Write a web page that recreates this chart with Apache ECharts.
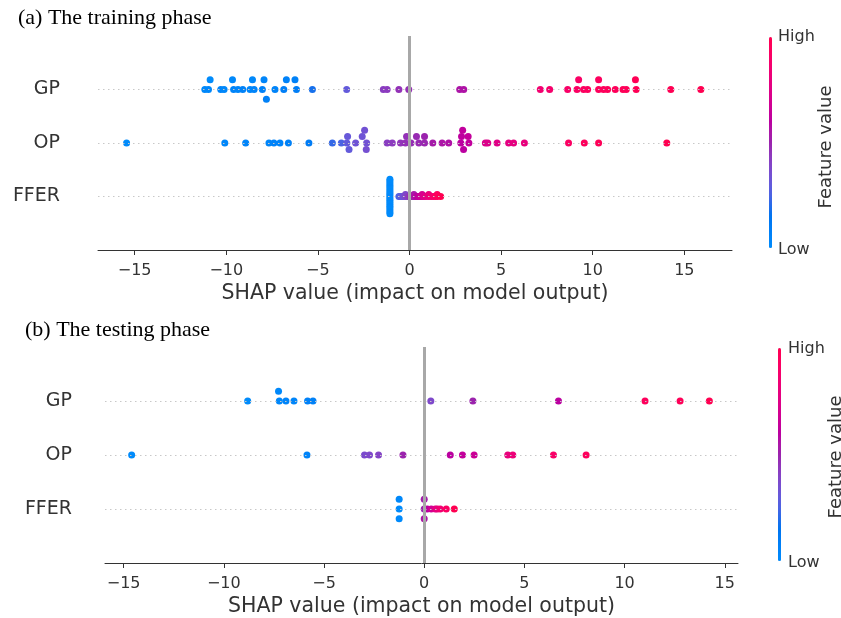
<!DOCTYPE html>
<html>
<head>
<meta charset="utf-8">
<script src="https://cdn.jsdelivr.net/npm/echarts@6/dist/echarts.min.js"></script>
<style>
  html, body { margin: 0; padding: 0; background: #ffffff; }
  #chart { width: 841px; height: 618px; }
</style>
</head>
<body>
<div id="chart"></div>
<script>
// Feature names, top row first
const features = ['GP', 'OP', 'FFER'];
const xTicks = [-15, -10, -5, 0, 5, 10, 15];

// (a) training phase: SHAP values and normalised feature values (0 = low, 1 = high)
const trainGP = [-11.17, -10.97, -10.88, -10.30, -10.12, -9.60, -9.66, -9.36, -9.10, -8.70,
  -8.48, -8.57, -8.03, -7.94, -7.81, -7.34, -6.86, -6.72, -6.17, -6.25,
  -5.30, -3.43, -1.43, -1.22, -0.58, -0.04, 2.74, 2.96, 7.14, 7.65,
  8.63, 9.14, 9.23, 9.50, 9.72, 10.32, 10.32, 10.59, 10.81, 11.23,
  11.65, 11.83, 12.37, 12.33, 14.26, 15.90];
const trainGPFeat = [0.02, 0.03, 0.00, 0.04, 0.03, 0.05, 0.02, 0.04, 0.06, 0.03,
  0.05, 0.02, 0.06, 0.04, 0.07, 0.05, 0.08, 0.06, 0.09, 0.07,
  0.18, 0.30, 0.42, 0.43, 0.46, 0.47, 0.55, 0.56, 0.86, 0.88,
  0.90, 0.92, 0.91, 0.93, 0.94, 0.95, 0.94, 0.95, 0.96, 0.96,
  0.97, 0.97, 0.98, 0.98, 0.99, 1.00];

const trainOP = [-15.44, -10.08, -8.94, -7.67, -7.40, -7.07, -6.61, -5.49, -4.21, -3.72,
  -3.42, -3.38, -3.30, -2.94, -2.34, -2.58, -2.36, -2.45, -1.22, -0.94,
  -0.49, -0.22, -0.16, 0.08, 0.51, 0.38, 0.82, 0.82, 1.27, 1.78,
  2.14, 2.80, 2.84, 2.95, 2.90, 3.24, 3.20, 4.14, 4.27, 4.78,
  5.41, 5.68, 6.27, 8.68, 9.54, 10.32, 14.04];
const trainOPFeat = [0.00, 0.03, 0.05, 0.04, 0.06, 0.05, 0.07, 0.10, 0.22, 0.25,
  0.30, 0.31, 0.30, 0.33, 0.34, 0.33, 0.35, 0.34, 0.42, 0.43,
  0.45, 0.46, 0.46, 0.47, 0.48, 0.48, 0.49, 0.50, 0.53, 0.55,
  0.56, 0.60, 0.61, 0.60, 0.62, 0.62, 0.63, 0.72, 0.73, 0.75,
  0.77, 0.78, 0.80, 0.92, 0.95, 0.97, 1.00];

const trainFFER = [-1.07, -1.07, -1.07, -1.07, -1.07, -1.07, -1.07, -1.07, -1.07, -1.07,
  -1.07, -1.07, -1.07, -1.07, -1.07, -1.07, -1.07, -1.07, -1.07,
  -0.58, -0.50, -0.41, -0.33, -0.22, -0.22, -0.12, -0.03, 0.06, 0.15,
  0.24, 0.24, 0.33, 0.42, 0.52, 0.61, 0.69, 0.69, 0.79, 0.90,
  1.05, 1.05, 1.18, 1.30, 1.42, 1.51, 1.51, 1.70];
const trainFFERFeat = [0.00, 0.01, 0.00, 0.02, 0.01, 0.00, 0.02, 0.01, 0.00, 0.01,
  0.02, 0.00, 0.01, 0.02, 0.00, 0.01, 0.02, 0.00, 0.01,
  0.25, 0.28, 0.31, 0.34, 0.37, 0.38, 0.41, 0.44, 0.47, 0.50,
  0.53, 0.54, 0.57, 0.60, 0.63, 0.66, 0.69, 0.70, 0.73, 0.76,
  0.80, 0.81, 0.85, 0.88, 0.91, 0.94, 0.95, 1.00];

// (b) testing phase
const testGP = [-8.81, -7.23, -7.27, -6.90, -6.50, -5.82, -5.55, 0.33, 2.43, 6.70, 11.02, 12.77, 14.23];
const testGPFeat = [0.00, 0.03, 0.02, 0.05, 0.04, 0.06, 0.07, 0.38, 0.50, 0.60, 0.95, 0.97, 1.00];

const testOP = [-14.60, -5.85, -2.98, -2.73, -2.28, -1.06, 1.30, 1.91, 2.49, 4.17, 4.42, 6.45, 8.08];
const testOPFeat = [0.00, 0.05, 0.37, 0.38, 0.40, 0.50, 0.60, 0.63, 0.66, 0.80, 0.82, 0.90, 0.95];

const testFFER = [-1.25, -1.25, -1.25, 0.00, 0.00, 0.00, 0.15, 0.35, 0.55, 0.65, 0.80, 1.10, 1.50];
const testFFERFeat = [0.00, 0.02, 0.01, 0.50, 0.52, 0.55, 0.60, 0.68, 0.75, 0.80, 0.85, 0.92, 1.00];

// Red-blue colour scale, interpolated in LCh space (blue -> purple -> red)
function lch2rgb(L, C, h) {
  const a = C * Math.cos(h), b = C * Math.sin(h);
  const fy = (L + 16) / 116, fx = fy + a / 500, fz = fy - b / 200;
  const finv = t => (t > 0.206893 ? t * t * t : (t - 16 / 116) / 7.787);
  const X = 0.95047 * finv(fx), Y = finv(fy), Z = 1.08883 * finv(fz);
  const r = 3.2404542 * X - 1.5371385 * Y - 0.4985314 * Z;
  const g = -0.9692660 * X + 1.8760108 * Y + 0.0415560 * Z;
  const bl = 0.0556434 * X - 0.2040259 * Y + 1.0572252 * Z;
  const gam = v => {
    v = v > 0.0031308 ? 1.055 * Math.pow(v, 1 / 2.4) - 0.055 : 12.92 * v;
    return Math.round(Math.min(1, Math.max(0, v)) * 255);
  };
  return 'rgb(' + gam(r) + ',' + gam(g) + ',' + gam(bl) + ')';
}
const colorStops = [];
for (let i = 0; i <= 20; i++) {
  const t = i / 20;
  const L = t <= 0.5 ? 54 - 28 * t : 40 + 28 * (t - 0.5);
  const C = 70 + 20 * t;
  const h = 4.6588 + (0.35470565 + 2 * Math.PI - 4.6588) * t;
  colorStops.push(lch2rgb(L, C, h));
}

// Beeswarm layout: values sharing a bin are stacked 0, +1, -1, +2, ...
function swarm(shaps, rowPos, rowHeight) {
  const lo = Math.min(...shaps), hi = Math.max(...shaps);
  const quant = shaps.map(v => Math.round(100 * (v - lo) / (hi - lo + 1e-8)));
  const order = shaps.map((_, i) => i).sort((a, b) => quant[a] - quant[b]);
  const lanes = new Array(shaps.length).fill(0);
  let layer = 0, lastBin = -1;
  for (const i of order) {
    if (quant[i] !== lastBin) layer = 0;
    lanes[i] = Math.ceil(layer / 2) * ((layer % 2) * 2 - 1);
    layer++;
    lastBin = quant[i];
  }
  const k = 0.9 * rowHeight / Math.max(...lanes.map(l => l + 1));
  return lanes.map(l => rowPos + l * k);
}

function rowData(shaps, feat, rowPos) {
  const ys = swarm(shaps, rowPos, 0.4);
  return shaps.map((v, i) => [v, ys[i], feat[i]]);
}

const FONT = 'DejaVu Sans';
const fmtTick = v => (v < 0 ? '\u2212' + Math.abs(v) : String(v));

function xAxisFor(gridIndex, min, max) {
  return {
    gridIndex, type: 'value', min, max,
    axisLine: { show: true, onZero: false, lineStyle: { color: '#333333', width: 1 } },
    axisTick: { show: true, length: 5, customValues: xTicks, lineStyle: { color: '#333333' } },
    axisLabel: { customValues: xTicks, formatter: fmtTick, fontFamily: FONT, fontSize: 16, color: '#333333', margin: 13 },
    splitLine: { show: false },
    name: 'SHAP value (impact on model output)',
    nameLocation: 'middle', nameGap: 33,
    nameTextStyle: { fontFamily: FONT, fontSize: 20.5, color: '#333333' }
  };
}
function yAxisFor(gridIndex, margin) {
  return {
    gridIndex, type: 'value', min: -1, max: 3,
    axisLine: { show: false }, axisTick: { show: false }, splitLine: { show: false },
    axisLabel: {
      customValues: [0, 1, 2], formatter: v => features[2 - v],
      fontFamily: FONT, fontSize: 19, color: '#333333', margin
    }
  };
}
function guideSeries(axisIndex) {
  const dotted = { color: '#c8c8c8', type: [1.5, 3.5], width: 1 };
  return {
    type: 'line', xAxisIndex: axisIndex, yAxisIndex: axisIndex, data: [], z: 1, silent: true,
    markLine: {
      silent: true, symbol: ['none', 'none'], label: { show: false }, animation: false,
      data: [
        { yAxis: 2, lineStyle: dotted },
        { yAxis: 1, lineStyle: dotted },
        { yAxis: 0, lineStyle: dotted },
        { xAxis: 0, lineStyle: { color: '#a8a8a8', type: 'solid', width: 3 } }
      ]
    }
  };
}
function dots(axisIndex, data) {
  return {
    type: 'scatter', xAxisIndex: axisIndex, yAxisIndex: axisIndex, data,
    symbol: 'circle', symbolSize: 7, z: 3, animation: false,
    itemStyle: { opacity: 1, borderWidth: 0 }
  };
}
function colorBar(seriesIndex, left, top, height) {
  return {
    type: 'continuous', min: 0, max: 1, dimension: 2, seriesIndex,
    orient: 'vertical', left, top, itemWidth: 3, itemHeight: height,
    calculable: false, hoverLink: false, padding: 0,
    inRange: { color: colorStops }
  };
}
function label(text, x, y, size, extra) {
  return Object.assign({
    type: 'text', x, y, silent: true,
    style: { text, fill: '#333333', font: size + 'px "' + FONT + '"', textAlign: 'left', textVerticalAlign: 'middle' }
  }, extra || {});
}
function sideTitle(x, y) {
  return {
    type: 'text', x, y, rotation: Math.PI / 2, silent: true,
    style: { text: 'Feature value', fill: '#333333', font: '18px "' + FONT + '"', textAlign: 'center', textVerticalAlign: 'middle' }
  };
}

const chart = echarts.init(document.getElementById('chart'), null, { renderer: 'canvas' });
chart.setOption({
  animation: false,
  backgroundColor: '#ffffff',
  grid: [
    { left: 98, top: 36, width: 634, height: 214 },
    { left: 105, top: 347, width: 633, height: 217 }
  ],
  xAxis: [xAxisFor(0, -17, 17.6), xAxisFor(1, -15.93, 15.66)],
  yAxis: [yAxisFor(0, 38), yAxisFor(1, 33)],
  visualMap: [colorBar([1, 2, 3], 769, 37, 211), colorBar([5, 6, 7], 778, 348, 213)],
  series: [
    guideSeries(0),
    dots(0, rowData(trainGP, trainGPFeat, 2)),
    dots(0, rowData(trainOP, trainOPFeat, 1)),
    dots(0, rowData(trainFFER, trainFFERFeat, 0)),
    guideSeries(1),
    dots(1, rowData(testGP, testGPFeat, 2)),
    dots(1, rowData(testOP, testOPFeat, 1)),
    dots(1, rowData(testFFER, testFFERFeat, 0))
  ],
  graphic: [
    { type: 'text', x: 18, y: 18, silent: true,
      style: { text: '(a) The training phase', fill: '#000000', font: '22px "Liberation Serif"', textVerticalAlign: 'middle' } },
    { type: 'text', x: 25, y: 330, silent: true,
      style: { text: '(b) The testing phase', fill: '#000000', font: '22px "Liberation Serif"', textVerticalAlign: 'middle' } },
    label('High', 778, 37, 16),
    label('Low', 778, 250, 16),
    sideTitle(826, 147),
    label('High', 788, 349, 16),
    label('Low', 788, 563, 16),
    sideTitle(836, 457)
  ]
});
</script>
</body>
</html>
